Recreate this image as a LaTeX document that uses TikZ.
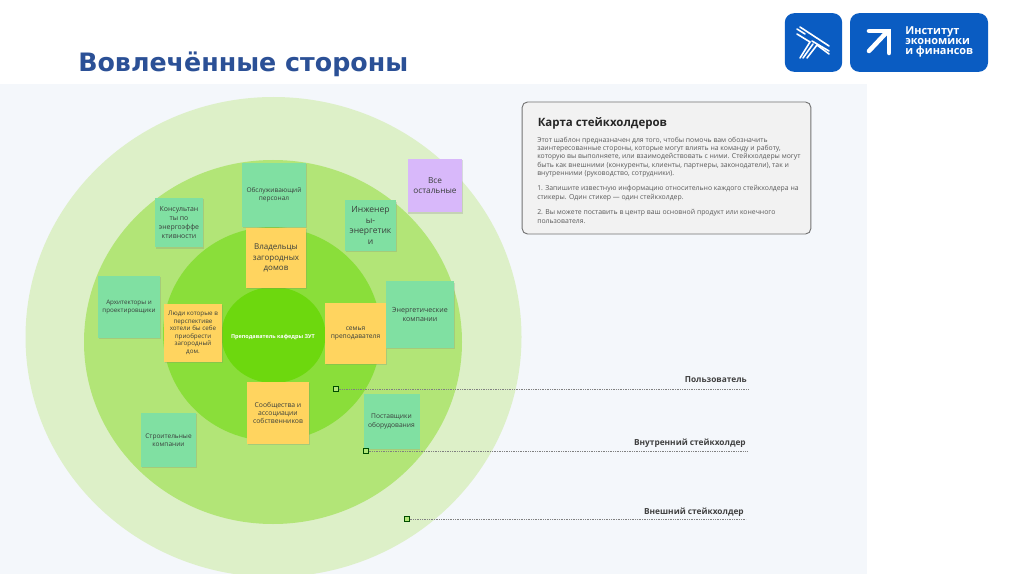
\documentclass[tikz,border=0pt]{standalone}
\usepackage{fontspec}
\setmainfont{Open Sans}
\newfontfamily\titlefont{DejaVu Sans}
\usetikzlibrary{arrows.meta, positioning, shadows}
\definecolor{panelbg}{HTML}{F4F7FB}
\definecolor{ringouter}{HTML}{DDF0C8}
\definecolor{ringmid}{HTML}{B2E577}
\definecolor{ringinner}{HTML}{8ADE3A}
\definecolor{ringcore}{HTML}{6DD80E}
\definecolor{stickgreen}{HTML}{80E0A2}
\definecolor{stickyellow}{HTML}{FFD45F}
\definecolor{stickviolet}{HTML}{D8B8FA}
\definecolor{titleblue}{HTML}{2B5096}
\definecolor{logoblue}{HTML}{0A5CC2}
\definecolor{cardbg}{HTML}{F2F2F2}
\definecolor{inktext}{HTML}{3A3F3C}

\begin{document}
\begin{tikzpicture}[x=0.75pt, y=-0.75pt, every node/.style={font=\small},
      sticker/.style={rectangle, align=center, text=inktext, inner sep=0pt, drop shadow={shadow xshift=0.6pt, shadow yshift=-1pt, opacity=0.25}},
      greenstick/.style={sticker, fill=stickgreen},
      yellowstick/.style={sticker, fill=stickyellow},
      violetstick/.style={sticker, fill=stickviolet},
      marker/.style={rectangle, draw=green!30!black, fill=ringmid, line width=0.6pt, minimum size=3.5pt, inner sep=0pt},
      leader/.style={draw=black!50, line width=0.7pt, dash pattern=on 0.7pt off 0.6pt},
      legend/.style={anchor=south east, font=\fontsize{6.25}{8}\selectfont\bfseries, text=black!75, inner sep=0pt},
      logobox/.style={rectangle, rounded corners=7pt, fill=logoblue, inner sep=0pt},
      logoline/.style={draw=white, line width=1.2pt, line cap=round}]
      \useasboundingbox (0,0) rectangle (1024,574);

      % Panel and rings
      \fill[white] (0,0) rectangle (1024,574);
      \fill[panelbg] (0,84) rectangle (867,574);
      \begin{scope}
        \clip (0,84) rectangle (867,574);
        \fill[ringouter] (273.5,337) ellipse (248 and 240);
      \end{scope}
      \fill[ringmid] (273,342) ellipse (189 and 182);
      \fill[ringinner] (272,334) ellipse (109 and 107);
      \fill[ringcore] (273.5,335) ellipse (52 and 48);

      % Title
      \node[anchor=base west, inner sep=0pt, text=titleblue, font=\titlefont\fontsize{19}{22}\selectfont\bfseries] (title) at (78,72) {Вовлечённые стороны};

      % Logos
      \node[logobox, minimum width=43pt, minimum height=44pt] (logoicon) at (813.5,42.5) {};
      \node[logobox, minimum width=103.5pt, minimum height=44pt] (logotext) at (919,42.5) {};
      \draw[logoline] (800,27) -- (829,46);
      \draw[logoline] (812,41) -- (829,51);
      \draw[logoline] (797,29) -- (805,34);
      \draw[logoline] (797,34) -- (810,42) -- (800,58);
      \draw[logoline] (803,58) -- (813,44);
      \draw[logoline] (807,58) -- (817,45) -- (829,54);
      \draw[white, line width=3.4pt, line cap=round] (869,51) -- (886,33);
      \draw[white, line width=3.4pt, line cap=round] (869,31) -- (889,31) -- (889,53);
      \node[anchor=west, align=left, inner sep=0pt, text=white, font=\fontsize{8.2}{7.4}\selectfont\bfseries] (logoname) at (905,42) {Институт\\экономики\\и финансов};

      % Card
      \node[rectangle, rounded corners=4pt, draw=black!55, line width=0.7pt, fill=cardbg, minimum width=216.5pt, minimum height=99pt] (card) at (666.5,168) {};
      \node[anchor=base west, inner sep=0pt, text=black!85, font=\fontsize{8.6}{10}\selectfont\bfseries] (cardtitle) at (537.5,127) {Карта стейкхолдеров};
      \node[anchor=north west, align=left, inner sep=0pt, text=black!65, font=\fontsize{5.15}{6.15}\selectfont] (cardtext) at (537,137) {Этот шаблон предназначен для того, чтобы помочь вам обозначить\\заинтересованные стороны, которые могут влиять на команду и работу,\\которую вы выполняете, или взаимодействовать с ними. Стейкхолдеры могут\\быть как внешними (конкуренты, клиенты, партнеры, законодатели), так и\\внутренними (руководство, сотрудники).\\[5.6pt]1. Запишите известную информацию относительно каждого стейкхолдера на\\стикеры. Один стикер — один стейкхолдер.\\[5.6pt]2. Вы можете поставить в центр ваш основной продукт или конечного\\пользователя.};

      % Centre
      \node[text=white, inner sep=0pt, font=\fontsize{4.1}{5}\selectfont\bfseries] (teacher) at (273,337) {Преподаватель кафедры ЗУТ};

      % Stickers
      \node[greenstick, minimum width=48pt, minimum height=48pt, font=\fontsize{4.9}{6}\selectfont] (staff) at (274,195) {Обслуживающий\\персонал};
      \node[greenstick, minimum width=36pt, minimum height=37pt, font=\fontsize{5.2}{6.6}\selectfont] (consult) at (179,222.5) {Консультан\\ты по\\энергоэффе\\ктивности};
      \node[greenstick, minimum width=38pt, minimum height=38pt, font=\fontsize{6.4}{8}\selectfont] (engineers) at (370.5,225.5) {Инженер\\ы-\\энергетик\\и};
      \node[violetstick, minimum width=41pt, minimum height=40pt, font=\fontsize{6.2}{7.2}\selectfont] (others) at (435,185.5) {Все\\остальные};
      \node[yellowstick, minimum width=45pt, minimum height=45pt, font=\fontsize{6}{7.6}\selectfont] (owners) at (276,258) {Владельцы\\загородных\\домов};
      \node[greenstick, minimum width=46.5pt, minimum height=46.5pt, font=\fontsize{4.7}{5.6}\selectfont] (architects) at (129,307) {Архитекторы и\\проектировщики};
      \node[yellowstick, minimum width=43.5pt, minimum height=43.5pt, font=\fontsize{4.7}{5.6}\selectfont] (people) at (193,333) {Люди которые в\\перспективе\\хотели бы себе\\приобрести\\загородный\\дом.};
      \node[yellowstick, minimum width=45.5pt, minimum height=45.5pt, font=\fontsize{5}{6.3}\selectfont] (family) at (355.5,333.5) {семья\\преподавателя};
      \node[greenstick, minimum width=51pt, minimum height=50pt, font=\fontsize{5.3}{6.4}\selectfont] (energy) at (420,314.5) {Энергетические\\компании};
      \node[yellowstick, minimum width=46.5pt, minimum height=46.5pt, font=\fontsize{5.1}{6.2}\selectfont] (communities) at (278,413) {Сообщества и\\ассоциации\\собственников};
      \node[greenstick, minimum width=42pt, minimum height=41pt, font=\fontsize{5}{6.2}\selectfont] (suppliers) at (391.5,421.5) {Поставщики\\оборудования};
      \node[greenstick, minimum width=41pt, minimum height=40.5pt, font=\fontsize{4.9}{6.4}\selectfont] (builders) at (168.5,440) {Строительные\\компании};

      % Leaders
      \node[marker] (useranchor) at (336,389) {};
      \node[marker] (innanchor) at (366,451) {};
      \node[marker] (extanchor) at (407,519) {};
      \coordinate (userend) at (748,389);
      \coordinate (innend) at (748,451);
      \coordinate (extend) at (746,519);
      \draw[leader] (useranchor) -- (userend);
      \draw[leader] (innanchor) -- (innend);
      \draw[leader] (extanchor) -- (extend);

      \node[legend] (userlabel) at (747,383) {Пользователь};
      \node[legend] (innlabel) at (746,448) {Внутренний стейкхолдер};
      \node[legend] (extlabel) at (744,517) {Внешний стейкхолдер};
    \end{tikzpicture}
\end{document}
